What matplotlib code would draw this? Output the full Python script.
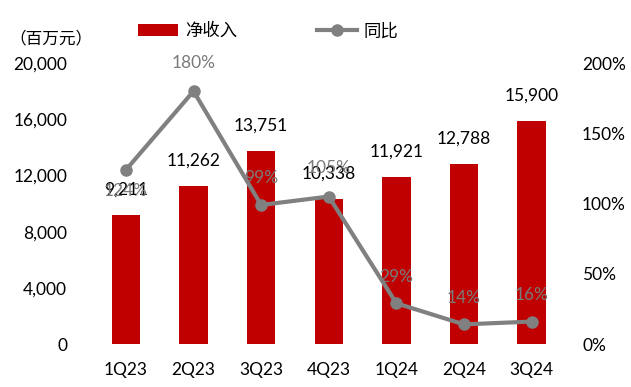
import matplotlib.pyplot as plt
from matplotlib.ticker import FuncFormatter

plt.rcParams['font.family'] = ['Lato', 'Noto Sans CJK SC', 'DejaVu Sans']

quarters = ['1Q23', '2Q23', '3Q23', '4Q23', '1Q24', '2Q24', '3Q24']
revenue = [9211, 11262, 13751, 10338, 11921, 12788, 15900]
yoy = [124, 180, 99, 105, 29, 14, 16]
# label shifts (in % units) to match the reference's placement
yoy_shift = [-15, 20, 19, 20, 19, 19, 19]

fig = plt.figure(figsize=(6.31, 3.87), dpi=100)
ax = fig.add_axes([0.146, 0.111, 0.75, 0.726])
ax2 = ax.twinx()

x = range(len(quarters))
bars = ax.bar(x, revenue, width=0.42, color='#c00000', label='净收入', zorder=2)
line, = ax2.plot(x, yoy, '-o', color='#808080', lw=3, ms=8, label='同比', zorder=3)

ax.set_xlim(-0.5, 6.5)
ax.set_ylim(0, 20000)
ax.set_yticks(range(0, 20001, 4000))
ax.yaxis.set_major_formatter(FuncFormatter(lambda v, p: f'{int(v):,}'))
ax2.set_ylim(0, 200)
ax2.set_yticks(range(0, 201, 50))
ax2.yaxis.set_major_formatter(FuncFormatter(lambda v, p: f'{int(v)}%'))
ax.set_xticks(list(x))
ax.set_xticklabels(quarters)

for a in (ax, ax2):
    for s in a.spines.values():
        s.set_visible(False)
    a.tick_params(length=0, labelsize=12.5)
ax.tick_params(axis='y', pad=18)
ax2.tick_params(axis='y', pad=12)
ax.tick_params(axis='x', pad=13)
ax.set_zorder(ax2.get_zorder() - 1)
ax.patch.set_visible(False)

for i, v in enumerate(revenue):
    ax.text(i, v + 1800, f'{v:,}', ha='center', va='center', fontsize=12.5, color='black')
for i, v in enumerate(yoy):
    ax2.text(i, v + yoy_shift[i], f'{v}%', ha='center', va='center', fontsize=12.5,
             color='#7a7a7a', zorder=5)

fig.text(0.015, 0.9, '（百万元）', fontsize=12, va='center')
fig.legend(handles=[bars, line], loc='center', bbox_to_anchor=(0.425, 0.92), ncol=2,
           frameon=False, fontsize=12.5, handlelength=2.3, handletextpad=0.4, columnspacing=4.6)

fig.savefig('out.png', dpi=100)
